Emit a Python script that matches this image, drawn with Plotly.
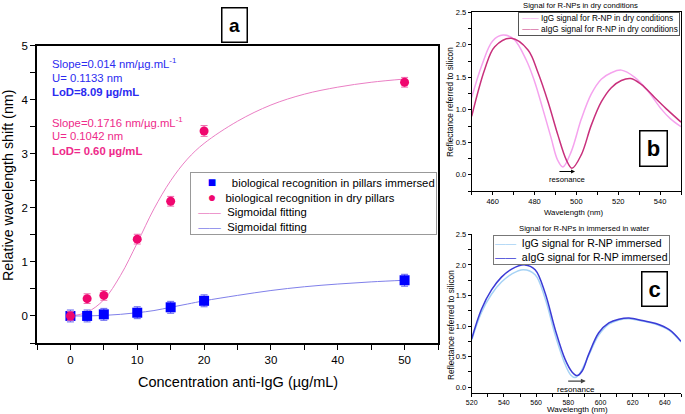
import plotly.graph_objects as go

W, H = 685, 414

# ---------------- data: panel a ----------------
conc = [0, 2.5, 5, 10, 15, 20, 50]
shift_dry = [0.0, 0.32, 0.38, 1.42, 2.12, 3.42, 4.32]
err_dry = [0.08, 0.09, 0.09, 0.09, 0.09, 0.10, 0.09]
shift_imm = [0.0, 0.0, 0.03, 0.06, 0.16, 0.28, 0.66]
err_imm = [0.11, 0.11, 0.11, 0.11, 0.11, 0.11, 0.11]

fit_conc = [0, 2.5, 5, 7.5, 10, 12.5, 15, 17.5, 20, 25, 30, 35, 40, 45, 50]
fit_dry = [0.0, 0.07, 0.30, 0.75, 1.35, 1.98, 2.50, 2.90, 3.19, 3.60, 3.90, 4.10, 4.23, 4.32, 4.38]
fit_imm = [0.0, 0.0, 0.01, 0.03, 0.06, 0.10, 0.16, 0.22, 0.28, 0.38, 0.47, 0.54, 0.59, 0.63, 0.66]

# ---------------- data: panel b (dry) ----------------
wl_igg_dry = [450, 455, 460, 465, 470, 476, 480, 484, 488, 491, 493.6, 497.6, 502.4,
              507.1, 511.9, 516.7, 521.5, 527.9, 534.2, 540.6, 545, 550]
igg_dry = [1.19, 1.70, 2.06, 2.15, 2.09, 1.77, 1.44, 1.01, 0.56, 0.23, 0.12, 0.36, 0.86,
           1.24, 1.47, 1.57, 1.61, 1.50, 1.29, 1.01, 0.86, 0.74]
wl_aigg_dry = [450, 456.2, 461, 468.9, 476.9, 481.7, 486.5, 491.2, 495.2, 497.9, 502.4,
               507.1, 511.9, 516.7, 521.5, 526, 531, 537.4, 543.8, 550]
aigg_dry = [0.90, 1.62, 1.97, 2.10, 1.92, 1.57, 1.12, 0.61, 0.23, 0.10, 0.31,
            0.76, 1.12, 1.34, 1.45, 1.48, 1.39, 1.19, 0.99, 0.81]

# ---------------- data: panel c (immersed) ----------------
wl_igg_imm = [520, 526, 532.3, 538.5, 544.8, 552, 559.4, 565.6, 571.9, 578.1, 581.5, 584,
              586.5, 592.7, 598.9, 605.2, 611.4, 617.7, 626, 634.4, 642.7, 650]
igg_imm = [0.77, 1.22, 1.52, 1.72, 1.85, 1.92, 1.84, 1.45, 0.85, 0.37, 0.20, 0.16,
           0.20, 0.52, 0.85, 1.03, 1.10, 1.12, 1.08, 1.03, 0.93, 0.74]
wl_aigg_imm = [520, 526, 532.3, 538.5, 544.8, 553, 559.4, 565.6, 571.9, 578.1, 582.3, 585.5,
               588.5, 592.7, 598.9, 605.2, 611.4, 617.7, 626, 634.4, 642.7, 650]
aigg_imm = [0.79, 1.27, 1.59, 1.80, 1.93, 2.00, 1.92, 1.54, 0.94, 0.45, 0.25, 0.19,
            0.26, 0.54, 0.89, 1.05, 1.11, 1.13, 1.09, 1.04, 0.94, 0.75]

FONT = "Arial, Liberation Sans, sans-serif"
PINK = "#f0076f"
BLUE = "#0000ff"
FIT_PINK = "#ea7fc4"
FIT_BLUE = "#8080ea"
IGG_DRY = "#f5a3ee"
AIGG_DRY = "#c8307c"
IGG_IMM = "#a6d2f5"
AIGG_IMM = "#3b3bd6"
SP = "\u00a0"


def px(x):
    return x / W


def py(y):
    return 1 - y / H


fig = go.Figure()

# ---------------- panel a ----------------
fig.add_trace(go.Scatter(x=fit_conc, y=fit_dry, mode="lines", line=dict(color=FIT_PINK, width=1, shape="spline"),
                         name="Sigmoidal fitting"))
fig.add_trace(go.Scatter(x=fit_conc, y=fit_imm, mode="lines", line=dict(color=FIT_BLUE, width=1, shape="spline"),
                         name="Sigmoidal fitting"))
fig.add_trace(go.Scatter(x=conc, y=shift_imm, mode="markers",
                         marker=dict(symbol="square", size=10, color=BLUE),
                         error_y=dict(type="data", array=err_imm, color="#6262f0", thickness=1, width=3.5),
                         name="biological recognition in pillars immersed"))
fig.add_trace(go.Scatter(x=conc, y=shift_dry, mode="markers",
                         marker=dict(symbol="circle", size=9, color=PINK),
                         error_y=dict(type="data", array=err_dry, color="#f06aae", thickness=1, width=3.5),
                         name="biological recognition in dry pillars"))

# ---------------- panel b ----------------
fig.add_trace(go.Scatter(x=wl_igg_dry, y=igg_dry, mode="lines", xaxis="x2", yaxis="y2",
                         line=dict(color=IGG_DRY, width=1.5, shape="spline"),
                         name="IgG signal for R-NP in dry conditions"))
fig.add_trace(go.Scatter(x=wl_aigg_dry, y=aigg_dry, mode="lines", xaxis="x2", yaxis="y2",
                         line=dict(color=AIGG_DRY, width=1.5, shape="spline"),
                         name="aIgG signal for R-NP in dry conditions"))

# ---------------- panel c ----------------
fig.add_trace(go.Scatter(x=wl_igg_imm, y=igg_imm, mode="lines", xaxis="x3", yaxis="y3",
                         line=dict(color=IGG_IMM, width=1.5, shape="spline"),
                         name="IgG signal for R-NP immersed"))
fig.add_trace(go.Scatter(x=wl_aigg_imm, y=aigg_imm, mode="lines", xaxis="x3", yaxis="y3",
                         line=dict(color=AIGG_IMM, width=1.5, shape="spline"),
                         name="aIgG signal for R-NP immersed"))

axis_common = dict(showgrid=False, zeroline=False, showline=True, linecolor="black",
                   ticks="outside", tickcolor="black", automargin=False)

fig.update_layout(
    width=W, height=H, autosize=False, showlegend=False,
    margin=dict(l=0, r=0, t=0, b=0, autoexpand=False),
    paper_bgcolor="white", plot_bgcolor="white",
    font=dict(family=FONT, color="black"),
    xaxis=dict(axis_common, domain=[px(37), px(438)], range=[-5, 55], anchor="y",
               tickvals=[0, 10, 20, 30, 40, 50], ticklen=5, linewidth=1.5, mirror=True,
               minor=dict(dtick=5, tick0=0, ticks="outside", ticklen=5, tickcolor="black"),
               tickfont=dict(size=11.5)),
    yaxis=dict(axis_common, domain=[py(343), py(45.5)], range=[-0.5, 5], anchor="x",
               tickvals=[0, 1, 2, 3, 4, 5], ticklen=5, linewidth=1.5, mirror=True,
               minor=dict(dtick=0.5, tick0=0, ticks="outside", ticklen=5, tickcolor="black"),
               tickfont=dict(size=11.5)),
    xaxis2=dict(axis_common, domain=[px(471.7), px(681)], range=[450, 550], anchor="y2",
                tickvals=[460, 480, 500, 520, 540], ticklen=3, linewidth=1, mirror=True,
                minor=dict(dtick=10, tick0=450, ticks="outside", ticklen=3, tickcolor="black"),
                tickfont=dict(size=7.5)),
    yaxis2=dict(axis_common, domain=[py(191), py(12.3)], range=[-0.25, 2.5], anchor="x2",
                tickvals=[0, 0.5, 1, 1.5, 2, 2.5], tickformat=".1f", ticklen=3, linewidth=1, mirror=True,
                minor=dict(dtick=0.25, tick0=0, ticks="outside", ticklen=3, tickcolor="black"),
                tickfont=dict(size=7.5)),
    xaxis3=dict(axis_common, domain=[px(471.7), px(681)], range=[520, 650], anchor="y3",
                tickvals=[520, 540, 560, 580, 600, 620, 640], ticklen=2.5, linewidth=1,
                minor=dict(dtick=10, tick0=520, ticks="outside", ticklen=2.5, tickcolor="black"),
                tickfont=dict(size=7)),
    yaxis3=dict(axis_common, domain=[py(393.3), py(234.3)], range=[-0.1, 2.5], anchor="x3",
                tickvals=[0, 0.5, 1, 1.5, 2, 2.5], tickformat=".1f", ticklen=3, linewidth=1,
                minor=dict(dtick=0.25, tick0=0, ticks="outside", ticklen=3, tickcolor="black"),
                tickfont=dict(size=7.5)),
)

ann = []


def label(x, y, text, size, color="black", angle=0, xanchor="center"):
    ann.append(dict(x=px(x), y=py(y), xref="paper", yref="paper", text=text, showarrow=False,
                    xanchor=xanchor, yanchor="middle", textangle=angle,
                    font=dict(size=size, color=color, family=FONT)))


def key_box(x, y, rows, size, border):
    # compact boxed key: each row is (lead spaces, symbol, symbol size, colour, gap spaces, text)
    lines = []
    for lead, sym, ssize, col, gap, text in rows:
        lines.append(SP * lead + "<span style='color:%s;font-size:%spx'>%s</span>" % (col, ssize, sym)
                     + SP * gap + text)
    ann.append(dict(x=px(x), y=py(y), xref="paper", yref="paper", text="<br>".join(lines),
                    showarrow=False, xanchor="left", yanchor="top", align="left",
                    bgcolor="white", bordercolor=border, borderwidth=1, borderpad=1,
                    font=dict(size=size, color="black", family=FONT)))


# axis titles
label(8, 185, "Relative wavelength shift (nm)", 14.3, angle=-90)
label(238, 382, "Concentration anti-IgG (µg/mL)", 14.5)
label(450, 102, "Reflectance referred to silicon", 8.3, angle=-90)
label(451, 325, "Reflectance referred to silicon", 8.3, angle=-90)
label(573, 213, "Wavelength (nm)", 7.8)
label(577, 409.5, "Wavelength (nm)", 8)
label(580, 5, "Signal for R-NPs in dry conditions", 7.7)
label(584, 228, "Signal for R-NPs in immersed in water", 7.7)

# fit results
c_blue = "#2b2bf0"
c_pink = "#ee2a8a"
label(50, 63.3, "Slope=0.014 nm/µg.mL<sup>-1</sup>", 11.3, c_blue, xanchor="left")
label(50, 77.7, "U= 0.1133 nm", 11.3, c_blue, xanchor="left")
label(50, 92, "<b>LoD=8.09 µg/mL</b>", 11.3, c_blue, xanchor="left")
label(50, 122, "Slope=0.1716 nm/µg.mL<sup>-1</sup>", 11.3, c_pink, xanchor="left")
label(50, 136, "U= 0.1042 nm", 11.3, c_pink, xanchor="left")
label(50, 150.7, "<b>LoD= 0.60 µg/mL</b>", 11.3, c_pink, xanchor="left")

# keys
key_box(190, 172, [
    (5, "■", 14, BLUE, 5, "biological recognition in pillars immersed"),
    (5, "●", 14, PINK, 3, "biological recognition in dry pillars"),
    (2, "——", 11.3, FIT_PINK, 2, "Sigmoidal fitting"),
    (2, "——", 11.3, FIT_BLUE, 2, "Sigmoidal fitting"),
], 11.3, "#999999")
key_box(518, 12.3, [
    (1, "——", 8.2, IGG_DRY, 1, "IgG signal for R-NP in dry conditions"),
    (1, "——", 8.2, AIGG_DRY, 1, "aIgG signal for R-NP in dry conditions"),
], 8.2, "#555555")
key_box(493, 235, [
    (0, "——", 10.5, IGG_IMM, 2, "IgG signal for R-NP immersed"),
    (0, "——", 10.5, AIGG_IMM, 2, "aIgG signal for R-NP immersed"),
], 10.5, "#777777")

# panel letters in framed boxes
for cx, cy, w, h, letter, size in [(234, 24.5, 24, 33, "a", 19), (653, 148, 26, 34, "b", 22),
                                   (654, 288.5, 24, 33, "c", 22)]:
    ann.append(dict(x=px(cx), y=py(cy), xref="paper", yref="paper", text="<b>%s</b>" % letter,
                    showarrow=False, xanchor="center", yanchor="middle", width=w, height=h,
                    bgcolor="white", bordercolor="black", borderwidth=1.5, borderpad=0,
                    font=dict(size=size, color="black", family=FONT)))

# resonance arrows
ann.append(dict(x=499.4, y=0.05, ax=491.2, ay=0.05, xref="x2", yref="y2", axref="x2", ayref="y2",
                text="", showarrow=True, arrowhead=2, arrowsize=0.8, arrowwidth=1, arrowcolor="black"))
ann.append(dict(x=495.4, y=-0.08, xref="x2", yref="y2", text="resonance", showarrow=False,
                font=dict(size=7.7, family=FONT)))
ann.append(dict(x=590.8, y=0.1, ax=579, ay=0.1, xref="x3", yref="y3", axref="x3", ayref="y3",
                text="", showarrow=True, arrowhead=2, arrowsize=0.8, arrowwidth=1.2, arrowcolor="#444444"))
ann.append(dict(x=585, y=-0.03, xref="x3", yref="y3", text="resonance", showarrow=False,
                font=dict(size=8, family=FONT)))

fig.update_layout(annotations=ann)

# the page's default body margin would push the figure 8px down and right
fig.write_html("out.html", config={"displayModeBar": False},
               post_script="document.body.style.margin='0';")
